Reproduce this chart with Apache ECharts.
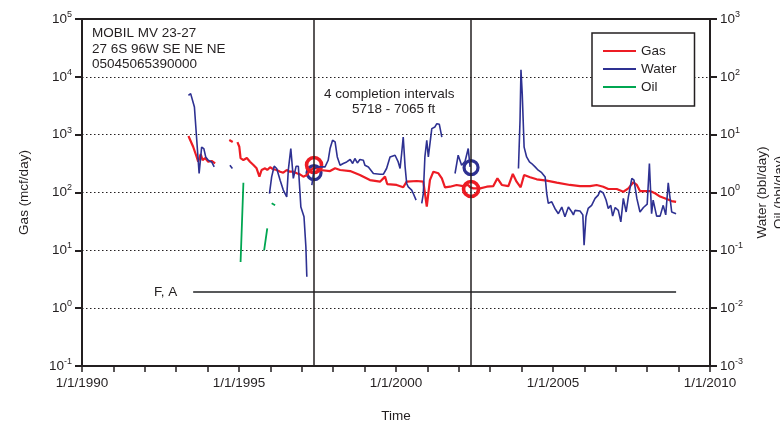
<!DOCTYPE html>
<html>
<head>
<meta charset="utf-8">
<script src="https://cdn.jsdelivr.net/npm/echarts@6/dist/echarts.min.js"></script>
<style>html,body{margin:0;padding:0;background:#fff}#c{width:780px;height:428px}</style>
</head>
<body>
<div id="c"></div>
<script>
// ---- data (x = decimal year) ----
const xTickLabels = ['1/1/1990', '1/1/1995', '1/1/2000', '1/1/2005', '1/1/2010'];
// Gas (mcf/day), left axis; null = gap
const gasData = [
  [1993.39, 946], [1993.54, 618], [1993.65, 415], [1993.70, 340], [1993.78, 462], [1993.84, 364],
  [1993.92, 394], [1994.02, 340], [1994.13, 350], [1994.24, 319], [1994.40, null],
  [1994.69, 807], [1994.80, 745], [1994.88, null],
  [1994.95, 745], [1995.01, 618], [1995.05, 394], [1995.14, 364], [1995.25, 394], [1995.35, 340],
  [1995.46, 299], [1995.56, 262], [1995.65, 188], [1995.72, 245], [1995.83, 262], [1995.90, 245],
  [1995.99, 273], [1996.09, 252], [1996.20, 245], [1996.31, 229], [1996.41, 220], [1996.52, 245],
  [1996.62, 229], [1996.73, 229], [1996.84, 215], [1996.94, 206], [1997.05, 188], [1997.16, 201],
  [1997.26, 238], [1997.39, 270], [1997.58, 245], [1997.90, 235], [1998.06, 262], [1998.22, 245],
  [1998.54, 235], [1998.85, 201], [1999.17, 164], [1999.49, 154], [1999.65, 188], [1999.72, 140],
  [2000.02, 135], [2000.23, 123], [2000.34, 154], [2000.66, 158], [2000.87, 154], [2000.98, 57],
  [2001.08, 164], [2001.19, 229], [2001.35, 215], [2001.46, 176], [2001.56, 123], [2001.72, 126],
  [2001.93, 135], [2002.14, 129], [2002.30, 135], [2002.36, 123], [2002.46, 118], [2002.68, 118],
  [2002.89, 126], [2003.10, 129], [2003.23, 176], [2003.37, 135], [2003.58, 129], [2003.72, 209],
  [2003.84, 154], [2003.97, 123], [2004.08, 201], [2004.27, 183], [2004.48, 169], [2004.80, 160],
  [2005.12, 148], [2005.54, 135], [2005.86, 129], [2006.18, 129], [2006.39, 135], [2006.60, 126],
  [2006.76, 115], [2007.03, 115], [2007.24, 103], [2007.40, 118], [2007.56, 150], [2007.67, 135],
  [2007.77, 106], [2008.09, 106], [2008.25, 97], [2008.41, 85], [2008.62, 77], [2008.78, 71],
  [2008.92, 69]
];
// Water (bbl/day), right axis
const waterData = [
  [1993.39, 47.9], [1993.46, 51.3], [1993.58, 30.1], [1993.73, 2.13], [1993.81, 6.1], [1993.88, 5.75],
  [1993.94, 4.12], [1994.02, 3.61], [1994.13, 3.38], [1994.21, 2.77], [1994.40, null],
  [1994.71, 2.96], [1994.79, 2.60], [1994.90, null],
  [1995.97, 0.96], [1996.04, 1.86], [1996.12, 2.85], [1996.20, 2.60], [1996.31, 1.63], [1996.41, 1.10],
  [1996.52, 0.84], [1996.57, 2.43], [1996.65, 5.75], [1996.73, 1.75], [1996.82, 2.85], [1996.89, 2.85],
  [1996.97, 0.56], [1997.07, 0.38], [1997.13, 0.115], [1997.16, 0.035], [1997.25, null],
  [1997.32, 1.34], [1997.39, 2.5], [1997.48, 2.77], [1997.74, 2.77], [1997.84, 3.61], [1997.90, 5.75],
  [1997.98, 8.0], [1998.06, 7.5], [1998.13, 4.12], [1998.22, 2.96], [1998.32, 3.17], [1998.43, 3.38],
  [1998.54, 3.72], [1998.62, 3.17], [1998.69, 3.87], [1998.77, 3.24], [1998.85, 3.72], [1998.96, 3.61],
  [1999.01, 2.96], [1999.12, 2.77], [1999.28, 2.13], [1999.49, 2.07], [1999.60, 2.07], [1999.70, 2.60],
  [1999.81, 4.12], [1999.97, 4.41], [2000.07, 3.38], [2000.13, 2.60], [2000.18, 4.72], [2000.23, 9.1],
  [2000.29, 2.77], [2000.34, 1.43], [2000.39, 1.25], [2000.45, 1.34], [2000.50, 1.10], [2000.55, 0.96],
  [2000.64, 0.74], [2000.72, null],
  [2000.82, 0.65], [2000.87, 0.96], [2000.92, 4.12], [2000.98, 8.0], [2001.03, 4.12], [2001.08, 3.87],
  [2001.14, 12.7], [2001.24, 13.6], [2001.30, 15.5], [2001.38, 15.1], [2001.46, 9.1], [2001.60, null],
  [2001.88, 2.13], [2001.98, 4.41], [2002.09, 2.96], [2002.20, 3.47], [2002.30, 5.75], [2002.36, 2.77],
  [2002.50, null],
  [2003.90, 2.60], [2003.95, 17.7], [2003.98, 133], [2004.02, 51.3], [2004.08, 6.1], [2004.16, 4.12],
  [2004.25, 3.38], [2004.32, 3.17], [2004.43, 2.77], [2004.53, 2.43], [2004.64, 2.2], [2004.75, 1.86],
  [2004.80, 0.96], [2004.85, 0.65], [2004.96, 0.69], [2005.06, 0.53], [2005.17, 0.43], [2005.28, 0.56],
  [2005.38, 0.38], [2005.49, 0.56], [2005.60, 0.46], [2005.65, 0.41], [2005.70, 0.49], [2005.76, 0.46],
  [2005.86, 0.48], [2005.95, 0.41], [2005.99, 0.123], [2006.05, 0.38], [2006.12, 0.53], [2006.23, 0.60],
  [2006.34, 0.79], [2006.44, 0.90], [2006.50, 1.07], [2006.60, 0.98], [2006.69, 0.74], [2006.76, 0.53],
  [2006.84, 0.60], [2006.90, 0.39], [2006.98, 0.55], [2007.08, 0.49], [2007.16, 0.31], [2007.24, 0.79],
  [2007.33, 0.46], [2007.40, 0.84], [2007.51, 1.75], [2007.58, 1.63], [2007.67, 0.79], [2007.77, 0.46],
  [2007.88, 0.55], [2008.00, 0.63], [2008.07, 3.17], [2008.14, 0.43], [2008.19, 0.74], [2008.30, 0.39],
  [2008.41, 0.39], [2008.51, 0.60], [2008.59, 0.41], [2008.67, 1.47], [2008.78, 0.46], [2008.92, 0.43]
];
// Oil (bbl/day), right axis
const oilData = [
  [1995.05, 0.063], [1995.14, 1.47], [1995.40, null],
  [1995.80, 0.10], [1995.90, 0.24], [1995.97, null],
  [1996.04, 0.65], [1996.15, 0.60]
];
// F, A interval line (left axis units)
const faData = [[1993.54, 1.91], [2008.92, 1.91]];
// completion dates (vertical lines)
const completionYears = [1997.39, 2002.39];
// circled points
const gasCircles = [[1997.39, 299], [2002.39, 115]];
const waterCircles = [[1997.39, 2.2], [2002.39, 2.7]];

const FONT = 'Liberation Sans, Arial, sans-serif';
const TXT = '#231f20';
const expLabel = v => {
  const e = Math.round(Math.log10(v));
  return '{b|10}{e|' + e + '}';
};
const richExp = {
  b: { fontSize: 13.5, lineHeight: 18, fontFamily: FONT, color: TXT },
  e: { fontSize: 9, lineHeight: 11, verticalAlign: 'top', fontFamily: FONT, color: TXT }
};
const toSeries = arr => arr.map(p => [p[0], p[1] === null ? '-' : p[1]]);

const chart = echarts.init(document.getElementById('c'), null, { renderer: 'canvas' });
chart.setOption({
  animation: false,
  backgroundColor: '#fff',
  textStyle: { fontFamily: FONT, color: TXT },
  grid: { left: 82, right: 70, top: 19, bottom: 62, outerBoundsMode: 'none', containLabel: false,
    show: true, borderColor: TXT, borderWidth: 2, backgroundColor: 'transparent' },
  legend: {
    data: ['Gas', 'Water', 'Oil'],
    orient: 'vertical', left: 592, top: 33,
    backgroundColor: '#fff', borderColor: TXT, borderWidth: 1.5,
    padding: [11, 18, 12, 10], itemWidth: 33, itemHeight: 14, itemGap: 4,
    itemStyle: { opacity: 0 },
    textStyle: { fontSize: 13.5, color: TXT, fontFamily: FONT }
  },
  xAxis: {
    type: 'value', min: 1990, max: 2010, interval: 5,
    name: 'Time', nameLocation: 'middle', nameGap: 43,
    nameTextStyle: { fontSize: 13.5, color: TXT, fontFamily: FONT },
    axisLine: { onZero: false, lineStyle: { color: TXT, width: 2 } },
    axisTick: { length: 6, lineStyle: { color: TXT, width: 1.5 } },
    minorTick: { show: true, splitNumber: 5, length: 6, lineStyle: { color: TXT, width: 1.5 } },
    splitLine: { show: false },
    axisLabel: { formatter: v => xTickLabels[Math.round((v - 1990) / 5)], margin: 10, fontSize: 13.5, color: TXT, fontFamily: FONT }
  },
  yAxis: [{
    type: 'log', logBase: 10, min: 0.1, max: 100000, position: 'left',
    name: 'Gas (mcf/day)', nameLocation: 'middle', nameGap: 51, nameRotate: 90,
    nameTextStyle: { fontSize: 13.5, color: TXT, fontFamily: FONT },
    axisLine: { show: true, lineStyle: { color: TXT, width: 2 } },
    axisTick: { show: true, length: 7, lineStyle: { color: TXT, width: 2 } },
    splitLine: { show: true, lineStyle: { color: TXT, type: [1.5, 2.5], width: 1.2 } },
    axisLabel: { formatter: expLabel, rich: richExp, margin: 10 }
  }, {
    type: 'log', logBase: 10, min: 0.001, max: 1000, position: 'right',
    name: 'Water (bbl/day)\nOil (bbl/day)', nameLocation: 'middle', nameGap: 37, nameRotate: 90,
    nameTextStyle: { fontSize: 13.5, color: TXT, fontFamily: FONT, lineHeight: 17 },
    axisLine: { show: true, lineStyle: { color: TXT, width: 2 } },
    axisTick: { show: true, length: 7, lineStyle: { color: TXT, width: 2 } },
    splitLine: { show: false },
    axisLabel: { formatter: expLabel, rich: richExp, margin: 10 }
  }],
  series: [
    {
      name: 'F, A', type: 'line', yAxisIndex: 0, symbol: 'none', silent: true,
      lineStyle: { color: '#58595b', width: 2 },
      data: faData,
      markLine: {
        symbol: 'none', silent: true, label: { show: false },
        lineStyle: { color: TXT, type: 'solid', width: 1.5 },
        data: completionYears.map(y => ({ xAxis: y }))
      }
    },
    {
      name: 'Oil', type: 'line', yAxisIndex: 1, symbol: 'none', connectNulls: false,
      itemStyle: { color: '#00a651' }, lineStyle: { color: '#00a651', width: 1.8 },
      data: toSeries(oilData)
    },
    {
      name: 'Gas', type: 'line', yAxisIndex: 0, symbol: 'none', connectNulls: false,
      itemStyle: { color: '#ed1c24' }, lineStyle: { color: '#ed1c24', width: 2.2 },
      data: toSeries(gasData)
    },
    {
      name: 'Water', type: 'line', yAxisIndex: 1, symbol: 'none', connectNulls: false,
      itemStyle: { color: '#2e3192' }, lineStyle: { color: '#2e3192', width: 1.6 },
      data: toSeries(waterData)
    },
    {
      name: 'waterCircle', type: 'scatter', yAxisIndex: 1, symbol: 'circle', symbolSize: 14, silent: true,
      itemStyle: { color: 'rgba(0,0,0,0)', borderColor: '#2e3192', borderWidth: 3.2, opacity: 1 },
      data: waterCircles
    },
    {
      name: 'gasCircle', type: 'scatter', yAxisIndex: 0, symbol: 'circle', symbolSize: 15, silent: true,
      itemStyle: { color: 'rgba(0,0,0,0)', borderColor: '#ed1c24', borderWidth: 3.6, opacity: 1 },
      data: gasCircles
    }
  ],
  graphic: [
    { type: 'text', left: 92, top: 26, style: { text: 'MOBIL MV 23-27\n27 6S 96W SE NE NE\n05045065390000', font: '13.5px ' + FONT, fill: TXT, lineHeight: 15.3 } },
    { type: 'text', left: 324, top: 87, style: { text: '4 completion intervals', font: '13.5px ' + FONT, fill: TXT } },
    { type: 'text', left: 352, top: 102, style: { text: '5718 - 7065 ft', font: '13.5px ' + FONT, fill: TXT } },
    { type: 'text', left: 154, top: 285, style: { text: 'F, A', font: '13.5px ' + FONT, fill: TXT } }
  ]
});
</script>
</body>
</html>
